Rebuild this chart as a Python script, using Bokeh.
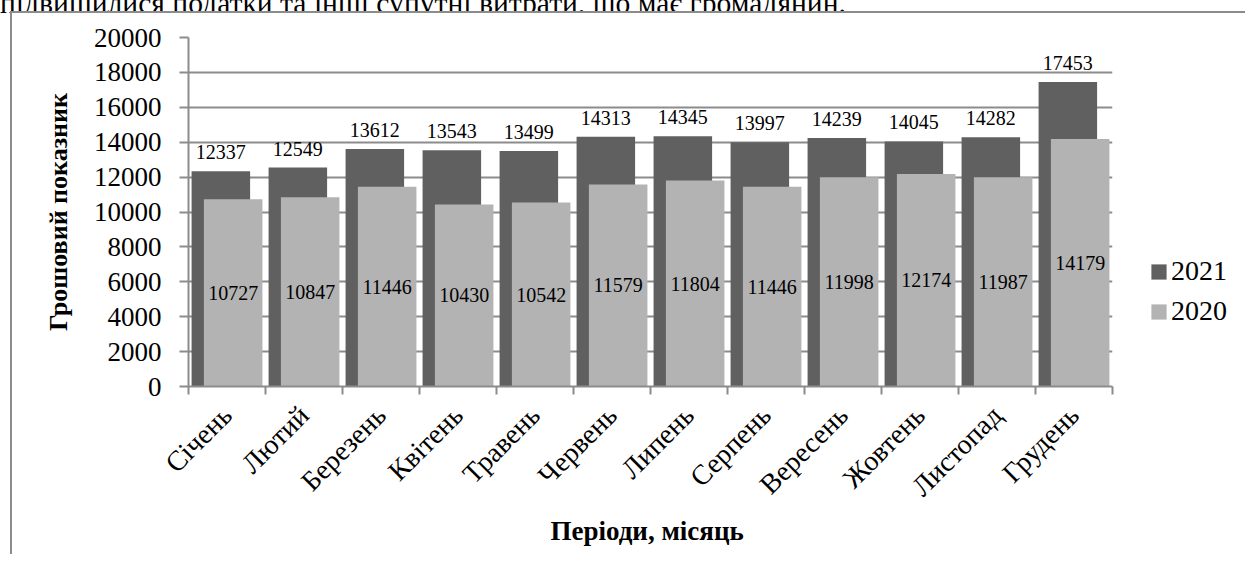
import math
from bokeh.plotting import figure
from bokeh.layouts import column, row
from bokeh.models import (ColumnDataSource, Range1d, FixedTicker, Legend, LegendItem,
                          Div, GlobalInlineStyleSheet)
from bokeh.core.properties import value
from bokeh.embed import file_html
from bokeh.resources import INLINE

months = ["Січень", "Лютий", "Березень", "Квітень", "Травень", "Червень",
          "Липень", "Серпень", "Вересень", "Жовтень", "Листопад", "Грудень"]
vals_2021 = [12337, 12549, 13612, 13543, 13499, 14313, 14345, 13997, 14239, 14045, 14282, 17453]
vals_2020 = [10727, 10847, 11446, 10430, 10542, 11579, 11804, 11446, 11998, 12174, 11987, 14179]
y_ticks = list(range(0, 20001, 2000))
series_names = ["2021", "2020"]
top_text = "підвищилися податки та інші супутні витрати, що має громадянин."

FONT = "Liberation Serif"
GRAY = "#8c8c8c"
DARK = "#606060"
LIGHT = "#b3b3b3"

idx = list(range(len(months)))
src = ColumnDataSource(dict(
    x21=[i - 0.08 for i in idx],
    x20=[i + 0.08 for i in idx],
    v21=vals_2021,
    v20=vals_2020,
    h20=[v / 2 for v in vals_2020],
    t21=[str(v) for v in vals_2021],
    t20=[str(v) for v in vals_2020],
))

TOTAL_W = 1245
DIV_H = 13
H = 554 - DIV_H
PW = 1122
p = figure(width=PW, height=H, output_backend="svg", toolbar_location=None,
           x_range=Range1d(-0.5, len(months) - 0.5), y_range=Range1d(0, 20000),
           min_border_left=188, min_border_right=PW - 1112, min_border_top=37 - DIV_H,
           min_border_bottom=168)
p.outline_line_color = None
p.background_fill_color = "white"
p.border_fill_color = "white"

r21 = p.vbar(x="x21", top="v21", width=0.76, source=src, fill_color=DARK, line_color=None)
r20 = p.vbar(x="x20", top="v20", width=0.76, source=src, fill_color=LIGHT, line_color=None)

p.text(x="x21", y="v21", text="t21", source=src, text_align="center",
       text_baseline="alphabetic", y_offset=-19, text_font=value(FONT),
       text_font_size="20px", text_color="black")
p.text(x="x20", y="h20", text="t20", source=src, text_align="center",
       text_baseline="middle", text_font=value(FONT),
       text_font_size="20px", text_color="black")

# grid
p.xgrid.grid_line_color = None
p.ygrid.grid_line_color = GRAY
p.ygrid.grid_line_width = 2
p.ygrid.ticker = FixedTicker(ticks=y_ticks)

# y axis
ya = p.yaxis[0]
ya.ticker = FixedTicker(ticks=y_ticks)
ya.axis_line_color = GRAY
ya.axis_line_width = 2
ya.major_tick_line_color = GRAY
ya.major_tick_line_width = 2
ya.major_tick_out = 9
ya.major_tick_in = 0
ya.minor_tick_line_color = None
ya.major_label_standoff = 18
ya.major_label_text_font = FONT
ya.major_label_text_font_size = "27px"
ya.major_label_text_color = "black"
ya.axis_label = "Грошовий показник"
ya.axis_label_text_font = FONT
ya.axis_label_text_font_style = "bold"
ya.axis_label_text_font_size = "26px"
ya.axis_label_text_color = "black"
ya.axis_label_standoff = 18

# x axis
xa = p.xaxis[0]
xa.ticker = FixedTicker(ticks=idx, minor_ticks=[i - 0.5 for i in range(len(months) + 1)])
xa.major_label_overrides = {i: m for i, m in enumerate(months)}
xa.major_label_orientation = math.pi / 4
xa.axis_line_color = GRAY
xa.axis_line_width = 2
xa.major_tick_line_color = None
xa.major_tick_out = 0
xa.major_tick_in = 0
xa.minor_tick_line_color = GRAY
xa.minor_tick_line_width = 2
xa.minor_tick_out = 8
xa.minor_tick_in = 0
xa.major_label_standoff = 16
xa.major_label_text_font = FONT
xa.major_label_text_font_size = "28px"
xa.major_label_text_color = "black"
xa.axis_label = "Періоди,  місяць"
xa.axis_label_text_font = FONT
xa.axis_label_text_font_style = "bold"
xa.axis_label_text_font_size = "27px"
xa.axis_label_text_color = "black"
xa.axis_label_standoff = 0

# legend lives in a narrow companion figure to the right of the plot
LW = TOTAL_W - PW
lf = figure(width=LW, height=H, output_backend="svg", toolbar_location=None,
            x_range=Range1d(0, 1), y_range=Range1d(0, 1),
            x_axis_type=None, y_axis_type=None,
            min_border_left=0, min_border_right=0, min_border_top=0, min_border_bottom=0)
lf.outline_line_color = None
lf.background_fill_alpha = 0
lf.border_fill_alpha = 0
# same series as the chart; hidden here so only their legend swatches show
l21 = lf.vbar(x="x21", top="v21", width=0.76, source=src, fill_color=DARK, line_color=None,
              visible=False)
l20 = lf.vbar(x="x20", top="v20", width=0.76, source=src, fill_color=LIGHT, line_color=None,
              visible=False)
legend = Legend(items=[LegendItem(label=value(series_names[0]), renderers=[l21]),
                       LegendItem(label=value(series_names[1]), renderers=[l20])],
                location=(27, 59), orientation="vertical",
                glyph_width=19, glyph_height=19, label_height=19, label_standoff=3,
                spacing=8, padding=0, margin=0, border_line_color=None,
                background_fill_alpha=0, inactive_fill_alpha=0,
                label_text_font=FONT, label_text_font_size="28px", label_text_color="black")
lf.add_layout(legend)

head = Div(
    text=('<div style="position:relative;top:-12px;white-space:nowrap;'
          "font-family:'Liberation Serif';font-size:29.6px;line-height:30px;color:black\">"
          + top_text + "</div>"),
    width=TOTAL_W, height=DIV_H, margin=0, styles={"overflow": "hidden"})

css = GlobalInlineStyleSheet(css=(
    "body{margin:0 !important;}"
    "body::before{content:'';position:absolute;left:10px;top:11px;width:2px;height:543px;"
    "background:#8c8c8c;z-index:1000;}"
    "body::after{content:'';position:absolute;left:10px;top:11px;width:1235px;height:2px;"
    "background:#8c8c8c;z-index:1000;}"
))

layout = column(head, row(p, lf, spacing=0), spacing=0, stylesheets=[css])

open("out.html", "w").write(file_html(layout, INLINE))
